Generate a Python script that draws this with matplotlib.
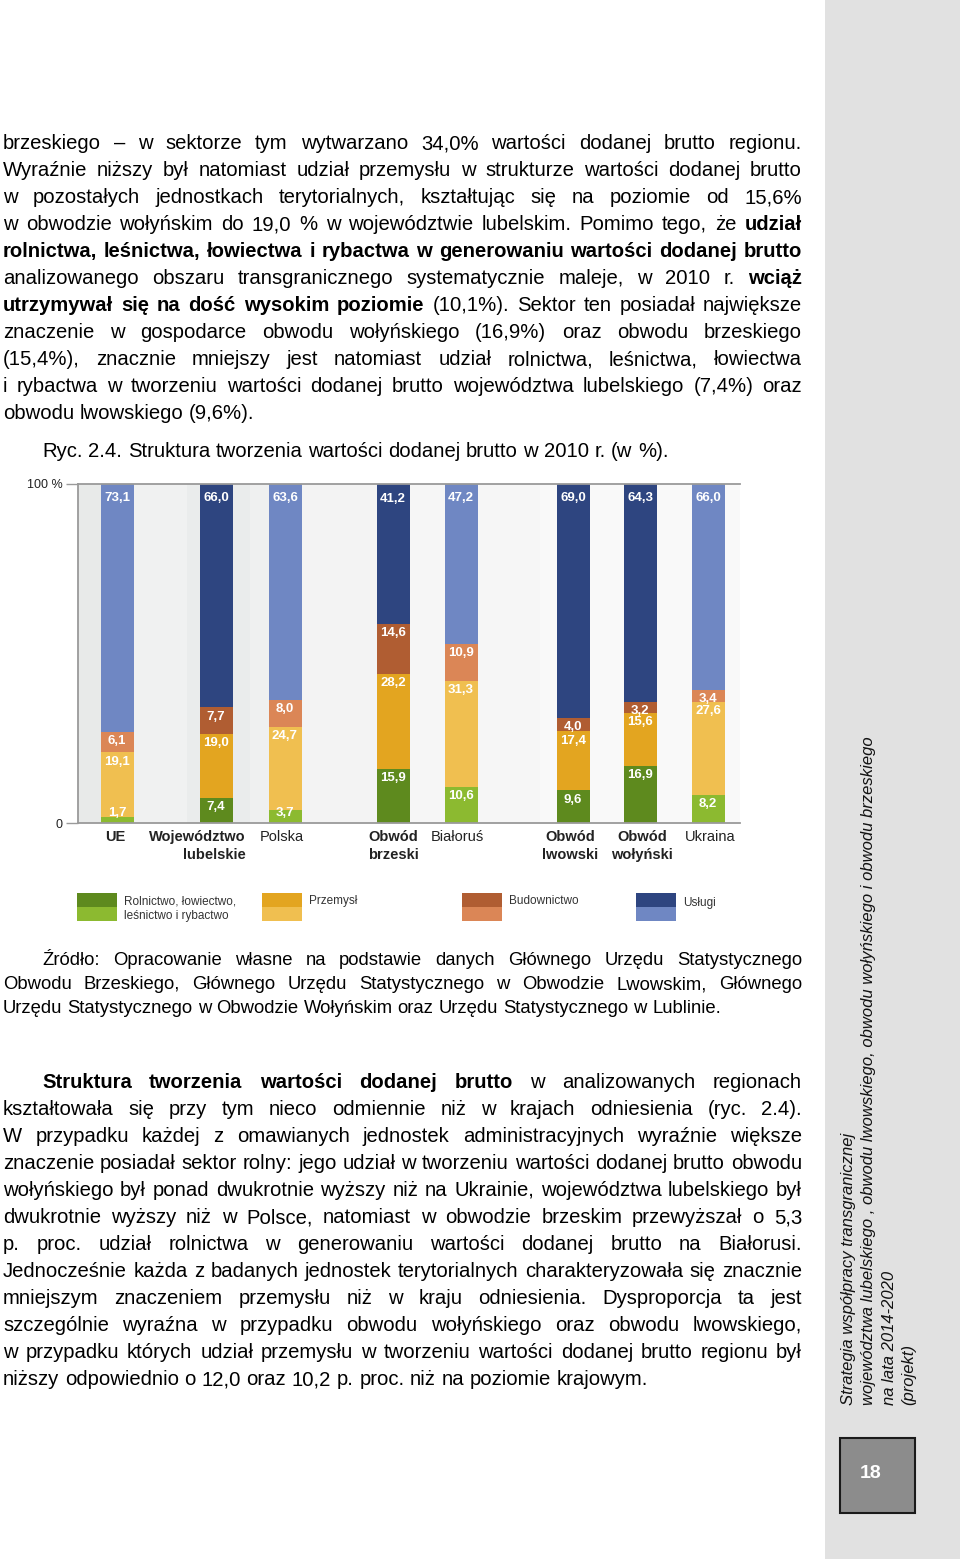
import matplotlib
matplotlib.use("Agg")
import matplotlib.pyplot as plt  # noqa: E402
from matplotlib import font_manager  # noqa: E402
from matplotlib.patches import Rectangle  # noqa: E402

# --- data -------------------------------------------------------------
categories = ["UE", "Województwo\nlubelskie", "Polska", "Obwód\nbrzeski",
              "Białoruś", "Obwód\nlwowski", "Obwód\nwołyński", "Ukraina"]
agri = [1.7, 7.4, 3.7, 15.9, 10.6, 9.6, 16.9, 8.2]
industry = [19.1, 19.0, 24.7, 28.2, 31.3, 17.4, 15.6, 27.6]
construction = [6.1, 7.7, 8.0, 14.6, 10.9, 4.0, 3.2, 3.4]
services = [73.1, 66.0, 63.6, 41.2, 47.2, 69.0, 64.3, 66.0]
aggregate = [True, False, True, False, True, False, False, True]
label_bold = [True, True, False, True, False, True, True, False]

legend_labels = ["Rolnictwo, łowiectwo,\nleśnictwo i rybactwo", "Przemysł",
                 "Budownictwo", "Usługi"]

# --- layout / style ---------------------------------------------------
W, H = 960, 1559
bar_x = [117, 216, 285, 393, 461, 573, 640, 708]
bar_w = 33
lab_x = [115, 246, 260, 393, 457, 570, 642, 710]
lab_ha = ["center", "right", "left", "center", "center", "center", "center", "center"]

# (dark, light) per sector
COLORS = [("#5e8a1e", "#8cba30"),
          ("#e3a520", "#f0bf50"),
          ("#b05d32", "#db8656"),
          ("#2e4580", "#6f87c3")]

names = {f.name for f in font_manager.fontManager.ttflist}
NARROW = "Liberation Sans Narrow" if "Liberation Sans Narrow" in names else "Liberation Sans"
BODY = "Liberation Sans"
plt.rcParams["font.family"] = [BODY, "DejaVu Sans"]

BODY_SIZE = 14.6
SRC_SIZE = 13.3

fig = plt.figure(figsize=(W / 100, H / 100), dpi=100)
page = fig.add_axes([0, 0, 1, 1])
page.set_xlim(0, W)
page.set_ylim(H, 0)
page.axis("off")
renderer = fig.canvas.get_renderer()


def text_width(t):
    return t.get_window_extent(renderer).width


def draw_line(y, segs, x0=3, x1=802, justify=True, size=BODY_SIZE):
    words = [(w, b) for s, b in segs for w in s.split()]
    items = []
    for w, b in words:
        t = page.text(0, y, w, fontsize=size, va="baseline", ha="left",
                      fontweight="bold" if b else "normal", color="black")
        items.append((t, text_width(t)))
    a = page.text(0, y, "a a", fontsize=size)
    c = page.text(0, y, "aa", fontsize=size)
    space = text_width(a) - text_width(c)
    a.remove()
    c.remove()
    if justify and len(items) > 1:
        gap = (x1 - x0 - sum(w for _, w in items)) / (len(items) - 1)
        gap = max(gap, 0.5 * space)
    else:
        gap = space
    x = x0
    for t, w in items:
        t.set_x(x)
        x += w + gap


N = False
B = True
para1 = [
    [("brzeskiego – w sektorze tym wytwarzano 34,0% wartości dodanej brutto regionu.", N)],
    [("Wyraźnie niższy był natomiast udział przemysłu w strukturze wartości dodanej brutto", N)],
    [("w pozostałych jednostkach terytorialnych, kształtując się na poziomie od 15,6%", N)],
    [("w obwodzie wołyńskim do 19,0 % w województwie lubelskim. Pomimo tego, że", N), ("udział", B)],
    [("rolnictwa, leśnictwa, łowiectwa i rybactwa w generowaniu wartości dodanej brutto", B)],
    [("analizowanego obszaru transgranicznego systematycznie maleje, w 2010 r.", N), ("wciąż", B)],
    [("utrzymywał się na dość wysokim poziomie", B), ("(10,1%). Sektor ten posiadał największe", N)],
    [("znaczenie w gospodarce obwodu wołyńskiego (16,9%) oraz obwodu brzeskiego", N)],
    [("(15,4%), znacznie mniejszy jest natomiast udział rolnictwa, leśnictwa, łowiectwa", N)],
    [("i rybactwa w tworzeniu wartości dodanej brutto województwa lubelskiego (7,4%) oraz", N)],
    [("obwodu lwowskiego (9,6%).", N)],
]
for i, segs in enumerate(para1):
    draw_line(149 + 27 * i, segs, justify=i < len(para1) - 1)

draw_line(457, [("Ryc. 2.4. Struktura tworzenia wartości dodanej brutto w 2010 r. (w %).", N)],
          x0=42, justify=False)

source = [
    [("Źródło: Opracowanie własne na podstawie danych Głównego Urzędu Statystycznego", N)],
    [("Obwodu Brzeskiego, Głównego Urzędu Statystycznego w Obwodzie Lwowskim, Głównego", N)],
    [("Urzędu Statystycznego w Obwodzie Wołyńskim oraz Urzędu Statystycznego w Lublinie.", N)],
]
for i, segs in enumerate(source):
    draw_line(965 + 24 * i, segs, x0=42 if i == 0 else 3, justify=i < 2, size=SRC_SIZE)

para3 = [
    [("Struktura tworzenia wartości dodanej brutto", B), ("w analizowanych regionach", N)],
    [("kształtowała się przy tym nieco odmiennie niż w krajach odniesienia (ryc. 2.4).", N)],
    [("W przypadku każdej z omawianych jednostek administracyjnych wyraźnie większe", N)],
    [("znaczenie posiadał sektor rolny: jego udział w tworzeniu wartości dodanej brutto obwodu", N)],
    [("wołyńskiego był ponad dwukrotnie wyższy niż na Ukrainie, województwa lubelskiego był", N)],
    [("dwukrotnie wyższy niż w Polsce, natomiast w obwodzie brzeskim przewyższał o 5,3", N)],
    [("p. proc. udział rolnictwa w generowaniu wartości dodanej brutto na Białorusi.", N)],
    [("Jednocześnie każda z badanych jednostek terytorialnych charakteryzowała się znacznie", N)],
    [("mniejszym znaczeniem przemysłu niż w kraju odniesienia. Dysproporcja ta jest", N)],
    [("szczególnie wyraźna w przypadku obwodu wołyńskiego oraz obwodu lwowskiego,", N)],
    [("w przypadku których udział przemysłu w tworzeniu wartości dodanej brutto regionu był", N)],
    [("niższy odpowiednio o 12,0 oraz 10,2 p. proc. niż na poziomie krajowym.", N)],
]
for i, segs in enumerate(para3):
    draw_line(1088 + 27 * i, segs, x0=42 if i == 0 else 3, justify=i < len(para3) - 1)

# --- sidebar ----------------------------------------------------------
page.add_patch(Rectangle((825, 0), W - 825, H, facecolor="#e1e1e1", edgecolor="none", zorder=0))
side = ["Strategia współpracy transgranicznej",
        "województwa lubelskiego , obwodu lwowskiego, obwodu wołyńskiego i obwodu brzeskiego",
        "na lata 2014-2020",
        "(projekt)"]
for i, s in enumerate(side):
    page.text(849 + 20 * i, 1405, s, rotation=90, rotation_mode="anchor",
              ha="left", va="center", fontsize=12, fontstyle="italic", color="#111")
page.add_patch(Rectangle((840, 1438), 75, 75, facecolor="#8c8c8c", edgecolor="#1a1a1a",
                         lw=1.5, zorder=2))
page.text(871, 1474, "18", ha="center", va="center", fontsize=14, fontweight="bold",
          color="white", zorder=3)

# --- chart ------------------------------------------------------------
x_left, x_right, y_top, y_bot = 78, 740, 484, 823
ax = fig.add_axes([x_left / W, 1 - y_bot / H, (x_right - x_left) / W, (y_bot - y_top) / H])
ax.set_facecolor("none")
ax.set_xlim(x_left, x_right)
ax.set_ylim(0, 100)

bands = [(78, 133, "#e8eae9"), (133, 187, "#f0f1f1"), (187, 250, "#eaecec"),
         (250, 302, "#eff0f0"), (302, 380, "#f3f3f3"), (380, 540, "#f6f6f6"),
         (540, 740, "#f9f9f9")]
for a, b, c in bands:
    ax.axvspan(a, b, color=c, lw=0, zorder=0)

series = [agri, industry, construction, services]
bottom = [0.0] * len(categories)
for k, vals in enumerate(series):
    cols = [COLORS[k][1] if agg else COLORS[k][0] for agg in aggregate]
    ax.bar(bar_x, vals, width=bar_w, bottom=bottom, color=cols, lw=0, zorder=2)
    for i, v in enumerate(vals):
        top = min(bottom[i] + v, 100)
        off = 4.2 if k == 3 else 2.7
        ax.text(bar_x[i], max(top - off, 3.0), f"{v:.1f}".replace(".", ","),
                ha="center", va="center", color="white", fontweight="bold",
                fontsize=9.5, family=NARROW, zorder=3)
    bottom = [b + v for b, v in zip(bottom, vals)]

for s in ["left", "bottom", "top"]:
    ax.spines[s].set_color("#9a9a9a")
    ax.spines[s].set_linewidth(1.3)
ax.spines["right"].set_visible(False)
ax.set_xticks([])
ax.set_yticks([0, 100])
ax.set_yticklabels(["0", "100 %"], family=NARROW, fontsize=9, color="#222")
ax.tick_params(axis="y", length=9, width=1, color="#9a9a9a", pad=2)

for i, c in enumerate(categories):
    page.text(lab_x[i], 830, c, ha=lab_ha[i], va="top", multialignment=lab_ha[i],
              fontsize=10.5, family=NARROW, fontweight="bold" if label_bold[i] else "normal",
              color="#222", linespacing=1.4)

# --- legend -----------------------------------------------------------
leg_x = [77, 262, 462, 636]
for k, lab in enumerate(legend_labels):
    page.add_patch(Rectangle((leg_x[k], 893), 40, 14, facecolor=COLORS[k][0], lw=0))
    page.add_patch(Rectangle((leg_x[k], 907), 40, 14, facecolor=COLORS[k][1], lw=0))
    page.text(leg_x[k] + 47, 895 if k < 3 else 897, lab, ha="left", va="top",
              fontsize=8.5, family=NARROW, color="#333", linespacing=1.35)

fig.savefig("out.png", dpi=100)
